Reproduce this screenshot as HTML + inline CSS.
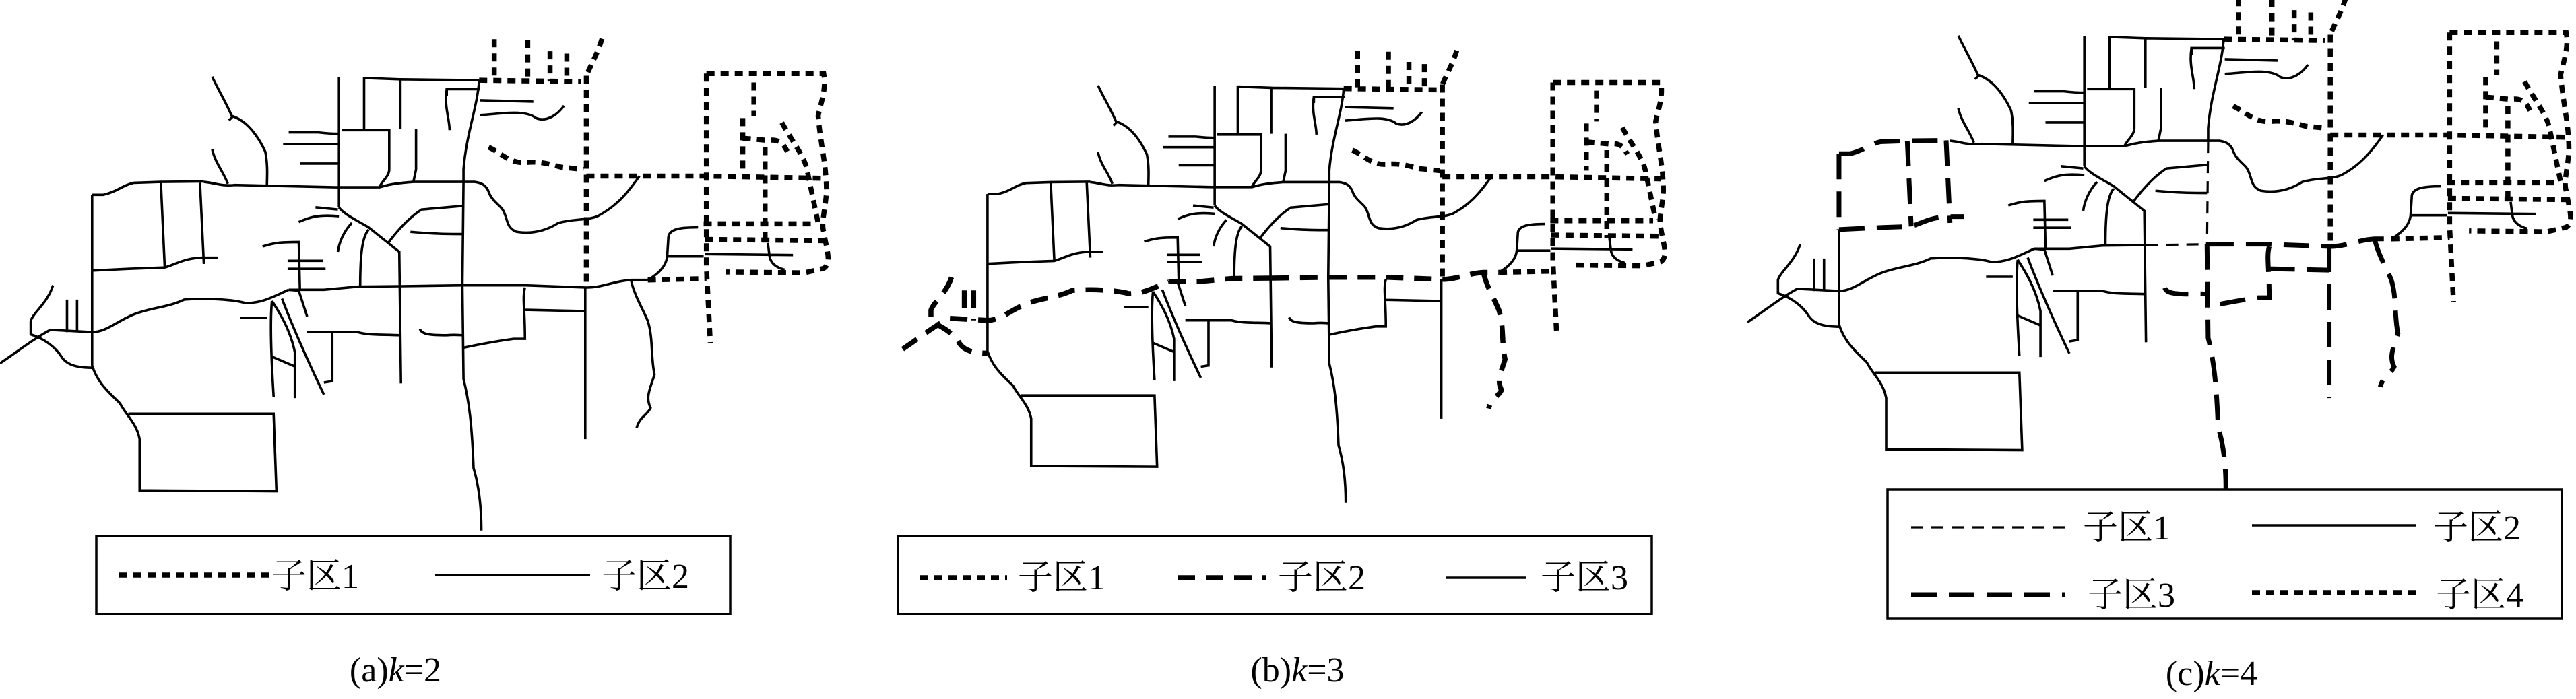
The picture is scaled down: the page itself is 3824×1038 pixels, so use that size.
<!DOCTYPE html>
<html><head><meta charset="utf-8"><style>
html,body{margin:0;padding:0;background:#fff}
svg{display:block}
.s{stroke:#000;stroke-width:3.6;fill:none}
.dot{stroke:#000;stroke-width:7.5;stroke-dasharray:12 9;fill:none}
.d2{stroke:#000;stroke-width:7.5;stroke-dasharray:26 16;fill:none}
.c1{stroke:#000;stroke-width:3.2;stroke-dasharray:18 12;fill:none}
.c3{stroke:#000;stroke-width:7;stroke-dasharray:38 18;fill:none}
text{font-family:"Liberation Serif","Noto Serif CJK SC",serif;font-size:52px;fill:#000}
</style></head><body>
<svg width="3824" height="1038" viewBox="0 0 3824 1038" xmlns="http://www.w3.org/2000/svg">
<rect width="3824" height="1038" fill="#fff"/>
<defs>
<g id="base">
<path vector-effect="non-scaling-stroke" d="M607,173 L607,465"/>
<path vector-effect="non-scaling-stroke" d="M652,173 L652,290 M652,175 L717,178 L717,290 M612,292 L697,292 L697,380 C697,395 685,405 680,418 M717,178 L858,180"/>
<path vector-effect="non-scaling-stroke" d="M858,180 C855,240 835,300 830,380 L830,408"/>
<path vector-effect="non-scaling-stroke" d="M800,215 L800,200 L860,200 M800,200 C795,240 805,265 805,292"/>
<path vector-effect="non-scaling-stroke" d="M860,225 L955,228 M860,258 C900,255 940,245 960,265 C980,275 1000,255 1010,237"/>
<path vector-effect="non-scaling-stroke" d="M745,290 L745,380 L740,410"/>
<path vector-effect="non-scaling-stroke" d="M517,297 L570,297 C590,300 600,300 607,300 M507,323 L607,323 M537,367 L607,367"/>
<path vector-effect="non-scaling-stroke" d="M380,172 C390,200 405,230 415,260 C440,270 460,300 475,340 C480,370 478,400 478,415 M410,270 L418,260"/>
<path vector-effect="non-scaling-stroke" d="M380,335 C385,365 400,385 408,412"/>
<path vector-effect="non-scaling-stroke" d="M365,408 C385,410 395,418 420,415 L600,420 L680,420 C700,412 720,410 740,408 L850,408 C862,410 870,415 875,430 C880,450 895,460 900,470 C910,490 905,510 925,520 C950,525 975,520 1000,500 C1030,490 1050,495 1070,485 C1100,465 1120,440 1145,395"/>
<path vector-effect="non-scaling-stroke" d="M607,465 C615,480 640,495 660,510 L715,565 L718,860 M695,545 C710,520 730,490 755,470 L828,462 M660,515 C650,530 645,560 645,642 M630,500 C615,520 607,545 605,565 M735,520 C780,525 800,525 828,525 M535,498 C550,490 565,480 607,485 M565,465 L605,470 M470,553 C490,545 500,543 535,543 L537,648 M515,585 L578,585 M515,603 L583,603"/>
<path vector-effect="non-scaling-stroke" d="M517,650 L535,652 L550,710 M487,675 C485,700 483,750 490,890 M487,675 C500,700 520,740 528,790 L528,893 M505,670 C520,720 540,780 580,885 M487,800 L528,822 M550,745 L640,745 C660,752 680,750 718,752 M595,745 L595,855 L580,858 M430,713 L478,713"/>
<path vector-effect="non-scaling-stroke" d="M165,745 L165,820 C175,860 195,880 215,905 C225,930 245,950 250,985 L250,1100 L495,1102 L490,928 L230,928"/>
<path vector-effect="non-scaling-stroke" d="M1262,570 L1420,572 M1375,545 L1378,575 C1380,590 1390,600 1405,605 M1160,628 C1185,610 1195,590 1195,570 L1197,530 C1200,515 1215,510 1250,510 M1195,575 L1260,575"/>
<path vector-effect="non-scaling-stroke" d="M165,607 L165,745"/>
</g>
<path id="K" vector-effect="non-scaling-stroke" d="M165,437 L185,437 C210,430 220,415 240,410 L288,408 L365,407 M288,408 L295,600 M358,407 L365,592 M165,607 L230,603 L295,600 C320,590 330,580 360,578 L390,578 M165,437 L165,607"/>
<path id="L1" vector-effect="non-scaling-stroke" d="M0,815 C30,790 60,760 90,740 L165,745 C190,745 210,720 240,705 C270,690 300,690 330,672 C370,668 420,672 440,680 C470,680 490,665 517,650"/>
<path id="L2" vector-effect="non-scaling-stroke" d="M517,650 L580,650 L640,643 L718,642"/>
<path id="L3" vector-effect="non-scaling-stroke" d="M718,642 L830,640"/>
<path id="L4" vector-effect="non-scaling-stroke" d="M830,640 L940,640 L1050,645 C1080,645 1100,630 1130,628 L1160,628"/>
<path id="S1" vector-effect="non-scaling-stroke" d="M95,640 C85,680 60,700 55,720 L55,750 C80,760 100,780 110,800 C120,820 140,825 165,825 M120,672 L120,745 M138,672 L138,745"/>
<path id="V2" vector-effect="non-scaling-stroke" d="M830,408 L828,640"/>
<path id="V3" vector-effect="non-scaling-stroke" d="M828,640 L830,850 C840,900 845,950 848,1050 C860,1100 862,1150 862,1190"/>
<path id="Q1" vector-effect="non-scaling-stroke" d="M940,645 C935,670 940,690 940,760 L920,760 C890,765 860,772 830,780 M940,695 L1048,698 M752,738 C755,750 770,752 800,752 C815,750 825,752 830,752"/>
<path id="W1" vector-effect="non-scaling-stroke" d="M1048,645 L1048,985"/>
<path id="R1" vector-effect="non-scaling-stroke" d="M1130,628 C1135,660 1150,690 1160,720 C1170,760 1165,800 1172,840 C1165,870 1155,890 1165,915 C1160,930 1145,935 1140,960"/>
<g id="T">
<path vector-effect="non-scaling-stroke" d="M885,88 L885,180 M945,90 L945,182 M985,115 L985,183 M1015,120 L1015,185 M1078,87 C1070,120 1060,140 1050,170 M858,180 L1040,183"/>
<path vector-effect="non-scaling-stroke" d="M1050,170 L1050,645"/>
<path vector-effect="non-scaling-stroke" d="M875,330 C900,345 910,365 940,365 C965,360 990,370 1005,375 L1045,380"/>
<path vector-effect="non-scaling-stroke" d="M1050,395 L1265,395 L1475,400"/>
<path vector-effect="non-scaling-stroke" d="M1265,165 L1475,165 C1480,200 1470,230 1465,260 C1470,330 1480,370 1480,430 C1478,470 1470,500 1475,520 C1480,560 1490,590 1475,602 L1440,612 L1300,610"/>
<path vector-effect="non-scaling-stroke" d="M1265,165 L1265,600 L1272,770"/>
<path vector-effect="non-scaling-stroke" d="M1350,185 L1350,260 M1330,265 L1330,380 M1330,310 L1375,315 C1400,310 1405,330 1410,340 M1400,275 C1420,320 1440,350 1445,380 L1465,500 M1370,330 L1370,545 M1260,502 L1460,502 M1262,537 L1480,540"/>
<path vector-effect="non-scaling-stroke" d="M1160,628 L1265,625"/>
</g>
</defs>

<!-- Panel a -->
<g transform="matrix(0.829,0,0,0.662,0,0)">
<use href="#base" class="s"/><use href="#K" class="s"/>
<use href="#L1" class="s"/><use href="#L2" class="s"/><use href="#L3" class="s"/><use href="#L4" class="s"/>
<use href="#S1" class="s"/><use href="#V2" class="s"/><use href="#V3" class="s"/><use href="#Q1" class="s"/>
<use href="#W1" class="s"/><use href="#R1" class="s"/>
<use href="#T" class="dot"/>
</g>
<rect x="143" y="796" width="941" height="116" fill="none" stroke="#000" stroke-width="3.5"/>
<line x1="177" y1="854" x2="399" y2="854" class="dot"/>
<text x="403" y="873">子区1</text>
<line x1="646" y1="854" x2="876" y2="854" class="s"/>
<text x="893" y="873">子区2</text>
<text x="587" y="1012" text-anchor="middle">(a)<tspan font-style="italic">k</tspan>=2</text>

<!-- Panel b -->
<g transform="matrix(0.763,0,0,0.609,1340,22)">
<use href="#base" class="s"/><use href="#K" class="s"/>
<use href="#L1" class="d2"/><use href="#L2" class="d2"/><use href="#L3" class="d2"/><use href="#L4" class="d2"/>
<use href="#S1" class="d2"/><use href="#V2" class="s"/><use href="#V3" class="s"/><use href="#Q1" class="s"/>
<use href="#W1" class="s"/><use href="#R1" class="d2"/>
<use href="#T" class="dot"/>
</g>
<rect x="1333" y="796" width="1119" height="116" fill="none" stroke="#000" stroke-width="3.5"/>
<line x1="1366" y1="858" x2="1495" y2="858" class="dot"/>
<text x="1511" y="875">子区1</text>
<line x1="1748" y1="858" x2="1880" y2="858" class="d2"/>
<text x="1897" y="875">子区2</text>
<line x1="2146" y1="858" x2="2266" y2="858" class="s"/>
<text x="2287" y="875">子区3</text>
<text x="1926" y="1012" text-anchor="middle">(b)<tspan font-style="italic">k</tspan>=3</text>

<!-- Panel c -->
<g transform="matrix(0.824,0,0,0.662,2594,-61)">
<use href="#base" class="s"/><use href="#K" class="c3"/>
<use href="#L1" class="s"/><use href="#L2" class="s"/><use href="#L3" class="c1"/><use href="#L4" class="c3"/>
<use href="#S1" class="s"/><use href="#V2" class="c1"/><use href="#V3" class="c3"/><use href="#Q1" class="c3"/>
<use href="#W1" class="c3"/><use href="#R1" class="c3"/>
<use href="#T" class="dot"/>
</g>
<rect x="2802" y="727" width="1001" height="191" fill="none" stroke="#000" stroke-width="3.5"/>
<line x1="2837" y1="783" x2="3066" y2="783" class="c1"/>
<text x="3092" y="801">子区1</text>
<line x1="3343" y1="780" x2="3586" y2="780" class="s"/>
<text x="3612" y="801">子区2</text>
<line x1="2837" y1="883" x2="3066" y2="883" class="c3"/>
<text x="3099" y="901">子区3</text>
<line x1="3343" y1="880" x2="3586" y2="880" class="dot"/>
<text x="3616" y="901">子区4</text>
<text x="3283" y="1017" text-anchor="middle">(c)<tspan font-style="italic">k</tspan>=4</text>
</svg>
</body></html>
